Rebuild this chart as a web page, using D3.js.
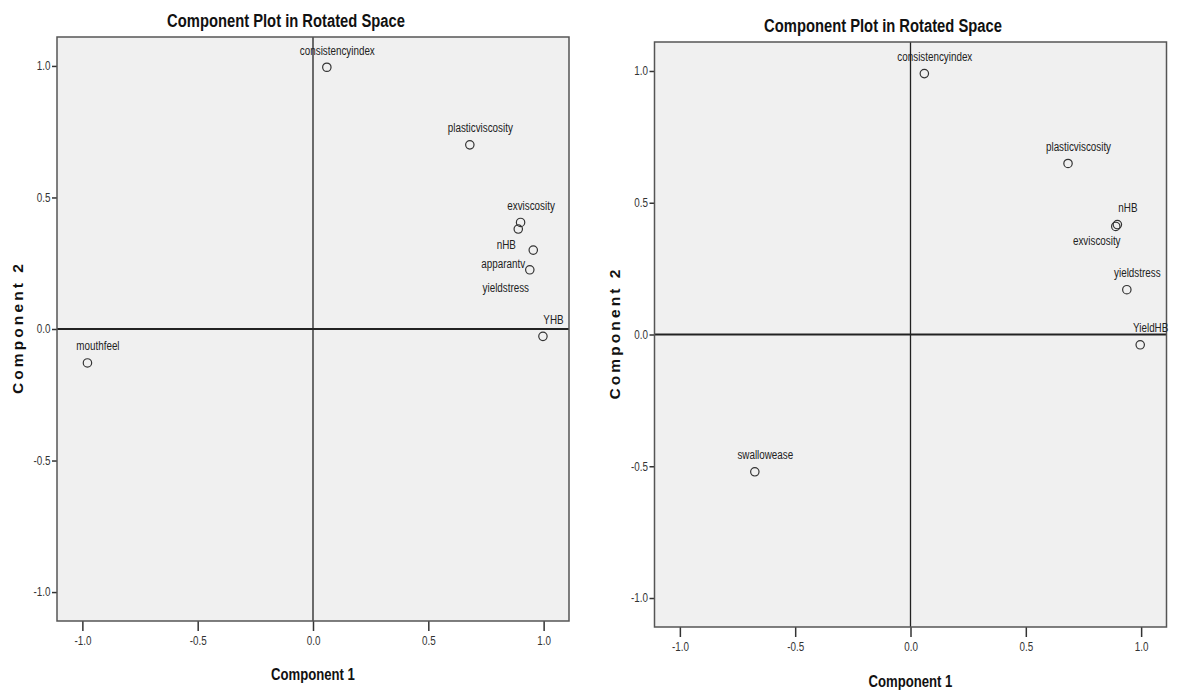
<!DOCTYPE html>
<html>
<head>
<meta charset="utf-8">
<script src="https://cdn.jsdelivr.net/npm/d3@7"></script>
<style>
body { margin:0; background:#fff; }
svg text { font-family: "Liberation Sans", Arial, sans-serif; }
.tick text { font-size:12px; fill:#333; }
.title { font-size:18px; font-weight:bold; fill:#111; }
.xlabel { font-size:16px; font-weight:bold; fill:#111; }
.ylabel { font-size:15.5px; font-weight:bold; fill:#111; }
.pt-label { font-size:12px; fill:#222; }
</style>
</head>
<body>
<script>
var width = 1178,
	height = 695;

var tickValues = [-1.0, -0.5, 0.0, 0.5, 1.0];
var axisDomain = [-1.11, 1.11];

// left plot: loadings on component 1 / component 2
var leftNames = ["consistencyindex", "plasticviscosity", "exviscosity", "nHB", "apparantv", "yieldstress", "YHB", "mouthfeel"];
var leftComp1 = [0.06, 0.68, 0.90, 0.89, 0.955, 0.94, 0.997, -0.978];
var leftComp2 = [0.995, 0.70, 0.405, 0.38, 0.30, 0.225, -0.028, -0.129];

// right plot
var rightNames = ["consistencyindex", "plasticviscosity", "nHB", "exviscosity", "yieldstress", "YieldHB", "swallowease"];
var rightComp1 = [0.06, 0.683, 0.897, 0.89, 0.938, 0.996, -0.675];
var rightComp2 = [0.99, 0.649, 0.417, 0.41, 0.17, -0.039, -0.521];

// labels that got pushed off their usual spot (offset of label centre from the point)
var leftLabelShift = {nHB: [-12, 16], apparantv: [-30, 14], yieldstress: [-24, 18]};
var rightLabelShift = {exviscosity: [-19, 15]};

var svg = d3.select("body").append("svg")
	.attr("width", width)
	.attr("height", height);

var fmt = function(d){ return d.toFixed(1); };

// no Arial Narrow here, so squeeze the normal face
function narrow(sel){
	sel.each(function(){
		var w = this.getComputedTextLength();
		d3.select(this)
			.attr("textLength", w * 0.82)
			.attr("lengthAdjust", "spacingAndGlyphs");
	});
}

drawPanel({left:57, right:569, top:37, bottom:621, titleX:286, titleY:27, xLabelY:680, yLabelX:23},
	leftNames, leftComp1, leftComp2, leftLabelShift);
drawPanel({left:654.5, right:1166.5, top:42, bottom:627, titleX:883, titleY:32, xLabelY:687, yLabelX:620},
	rightNames, rightComp1, rightComp2, rightLabelShift);

function drawPanel(p, names, comp1, comp2, shift){
	var x = d3.scaleLinear().domain(axisDomain).range([p.left, p.right]);
	var y = d3.scaleLinear().domain(axisDomain).range([p.bottom, p.top]);

	var g = svg.append("g");

	g.append("rect")
		.attr("x", p.left).attr("y", p.top)
		.attr("width", p.right - p.left).attr("height", p.bottom - p.top)
		.attr("fill", "#f0f0f0");

	// reference lines through zero
	g.append("line")
		.attr("x1", x(0)).attr("x2", x(0))
		.attr("y1", p.top).attr("y2", p.bottom)
		.attr("stroke", "#222").attr("stroke-width", 1.3);
	g.append("line")
		.attr("x1", p.left).attr("x2", p.right)
		.attr("y1", y(0)).attr("y2", y(0))
		.attr("stroke", "#222").attr("stroke-width", 2);

	var xAxis = g.append("g")
		.attr("transform", "translate(0," + p.bottom + ")")
		.style("color", "#333")
		.call(d3.axisBottom(x).tickValues(tickValues).tickFormat(fmt).tickSize(10).tickPadding(5.5));
	xAxis.select(".domain").remove();
	xAxis.selectAll(".tick line").attr("stroke-width", 1.5);
	xAxis.selectAll(".tick text").call(narrow);

	var yAxis = g.append("g")
		.attr("transform", "translate(" + p.left + ",0)")
		.style("color", "#333")
		.call(d3.axisLeft(y).tickValues(tickValues).tickFormat(fmt).tickSize(5).tickPadding(1.5));
	yAxis.select(".domain").remove();
	yAxis.selectAll(".tick line").attr("stroke-width", 1.5);
	yAxis.selectAll(".tick text").call(narrow);

	// frame
	g.append("rect")
		.attr("x", p.left).attr("y", p.top)
		.attr("width", p.right - p.left).attr("height", p.bottom - p.top)
		.attr("fill", "none")
		.attr("stroke", "#555").attr("stroke-width", 1.5);

	var pts = names.map(function(n, i){ return {name: n, c1: comp1[i], c2: comp2[i]}; });

	g.selectAll("circle.pt").data(pts).enter()
		.append("circle")
		.attr("class", "pt")
		.attr("cx", function(d){ return x(d.c1); })
		.attr("cy", function(d){ return y(d.c2); })
		.attr("r", 4.2)
		.attr("fill", "none")
		.attr("stroke", "#333")
		.attr("stroke-width", 1.2);

	g.selectAll("text.pt-label").data(pts).enter()
		.append("text")
		.attr("class", "pt-label")
		.attr("text-anchor", "middle")
		.attr("x", function(d){ var s = shift[d.name] || [10.5, -16.5]; return x(d.c1) + s[0]; })
		.attr("y", function(d){ var s = shift[d.name] || [10.5, -16.5]; return y(d.c2) + s[1] + 4; })
		.text(function(d){ return d.name; })
		.call(narrow);

	g.append("text")
		.attr("class", "title")
		.attr("text-anchor", "middle")
		.attr("x", p.titleX).attr("y", p.titleY)
		.text("Component Plot in Rotated Space")
		.call(narrow);

	g.append("text")
		.attr("class", "xlabel")
		.attr("text-anchor", "middle")
		.attr("x", (p.left + p.right) / 2).attr("y", p.xLabelY)
		.text("Component 1")
		.call(narrow);

	g.append("text")
		.attr("class", "ylabel")
		.attr("text-anchor", "middle")
		.attr("transform", "translate(" + p.yLabelX + "," + (p.top + p.bottom) / 2 + ") rotate(-90)")
		.attr("textLength", 130)
		.attr("lengthAdjust", "spacing")
		.text("Component 2");
}
</script>
</body>
</html>
